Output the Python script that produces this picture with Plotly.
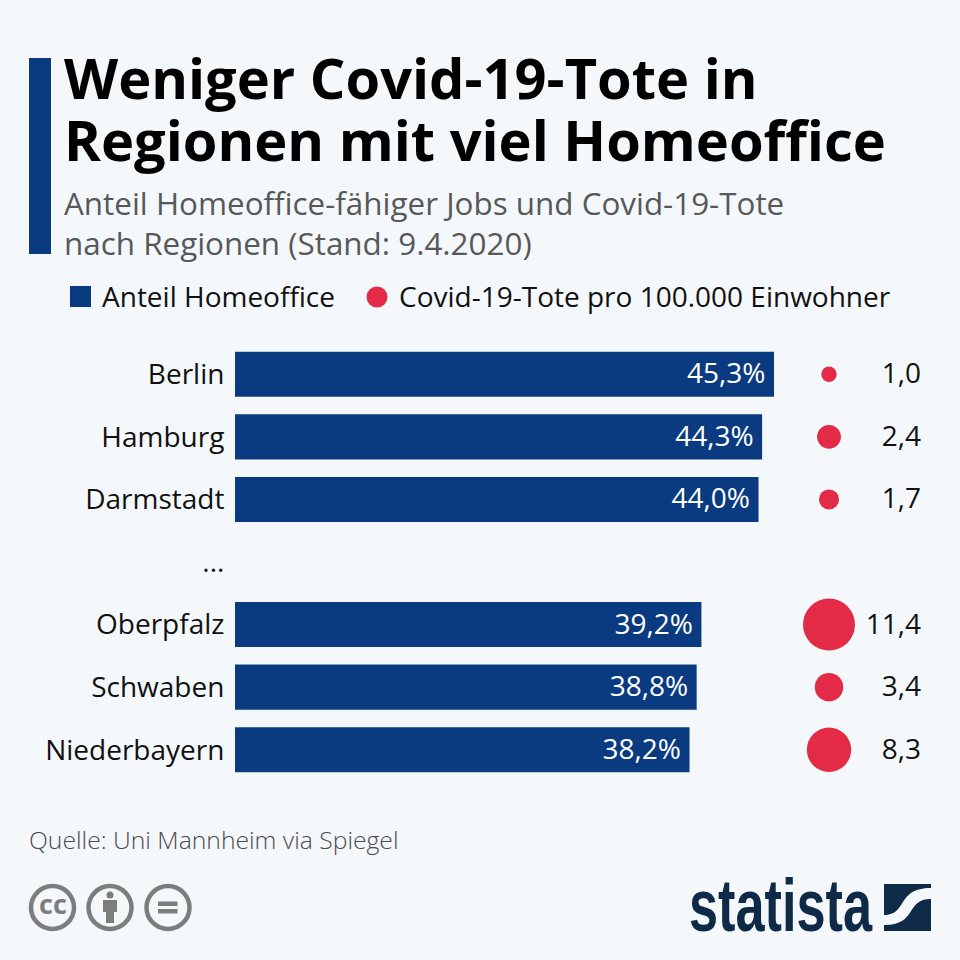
import plotly.graph_objects as go

regions = ["Berlin", "Hamburg", "Darmstadt", "...", "Oberpfalz", "Schwaben", "Niederbayern"]
homeoffice = [45.3, 44.3, 44.0, None, 39.2, 38.8, 38.2]
deaths = [1.0, 2.4, 1.7, None, 11.4, 3.4, 8.3]

TITLE = "Weniger Covid-19-Tote in<br>Regionen mit viel Homeoffice"
SUBTITLE = "Anteil Homeoffice-fähiger Jobs und Covid-19-Tote<br>nach Regionen (Stand: 9.4.2020)"
LEGEND_BAR = "Anteil Homeoffice"
LEGEND_DOT = "Covid-19-Tote pro 100.000 Einwohner"
SOURCE = "Quelle: Uni Mannheim via Spiegel"

BG = "#f4f8fb"; BLUE = "#0a3b80"; RED = "#e32b47"; INK = "#111111"; GREY = "#57585a"
NAVY = "#0f2a47"; ICON = "#7c7e7e"
FONT = "Open Sans"
W = 960.0
X0 = 235.0; PXU = 539.0 / 45.3
xmax = (W - X0) / PXU
DOT_X = (829 - X0) / PXU
LABEL_X = (921 - X0) / PXU
INSET = 8.5 / PXU
ROW_SHIFT = 2.0 / 62.57

fmt = lambda v: f"{v:.1f}".replace(".", ",")
idx = [i for i, v in enumerate(deaths) if v is not None]

fig = go.Figure()
fig.add_bar(
    y=regions, x=homeoffice, orientation="h", width=0.72, marker=dict(color=BLUE, line_width=0),
    name=LEGEND_BAR, showlegend=False,
)
fig.add_scatter(
    y=[regions[i] for i in idx], x=[homeoffice[i] - INSET for i in idx], mode="text", yaxis="y2",
    text=[fmt(homeoffice[i]) + "%" for i in idx], textposition="middle left",
    textfont=dict(family=FONT, size=28, color="white"), showlegend=False, cliponaxis=False,
)
fig.add_scatter(
    y=[regions[i] for i in idx], x=[DOT_X] * len(idx), mode="markers",
    marker=dict(color=RED, opacity=1, size=[deaths[i] for i in idx], sizemode="area", sizeref=2 / 15.4 ** 2, line_width=0),
    name=LEGEND_DOT, showlegend=False,
)
fig.add_scatter(
    y=[regions[i] for i in idx], x=[LABEL_X] * len(idx), mode="text", yaxis="y2",
    text=[fmt(deaths[i]) for i in idx], textposition="middle left",
    textfont=dict(family=FONT, size=28, color=INK), showlegend=False, cliponaxis=False,
)

def px(x): return x / W
def py(y): return 1 - y / W

def note(text, x, y, size, color=INK, bold=False, family=FONT, anchor="left", weight=None):
    f = dict(family=family, size=size, color=color)
    if weight: f["weight"] = weight
    fig.add_annotation(text=f"<b>{text}</b>" if bold else text, x=px(x), y=py(y), xref="paper", yref="paper",
                       xanchor=anchor, yanchor="middle", showarrow=False, align=anchor, font=f)

shapes = []
def rect(x0, y0, x1, y1, color):
    shapes.append(dict(type="rect", xref="paper", yref="paper", x0=px(x0), x1=px(x1), y0=py(y0), y1=py(y1),
                       fillcolor=color, line_width=0))
def ring(cx, cy, r, color, lw):
    shapes.append(dict(type="circle", xref="paper", yref="paper", x0=px(cx - r), x1=px(cx + r), y0=py(cy - r), y1=py(cy + r),
                       fillcolor="rgba(0,0,0,0)", line=dict(color=color, width=lw)))
def disc(cx, cy, r, color):
    shapes.append(dict(type="circle", xref="paper", yref="paper", x0=px(cx - r), x1=px(cx + r), y0=py(cy - r), y1=py(cy + r),
                       fillcolor=color, line_width=0))

# header
rect(29, 58, 51, 254, BLUE)
note(TITLE, 62, 113.5, 56, "#000000", bold=True)
note(SUBTITLE, 62, 223.5, 31.4, GREY)
# legend
rect(70, 286, 91, 307, BLUE)
note(LEGEND_BAR, 100, 295.5, 28)
disc(377, 297, 10.5, RED)
note(LEGEND_DOT, 397, 295.5, 28)
# footer
note(SOURCE, 27, 839.5, 24.7, "#4a4b4d", weight=300)
for cx in (52.5, 110, 168):
    ring(cx, 907.5, 21.5, ICON, 4.5)
note("<b>cc</b>", 52.5, 903, 27, ICON, anchor="center")
disc(110, 895, 3.5, ICON)
rect(103, 900, 117, 912, ICON)
rect(106, 912, 114, 923, ICON)
rect(158, 901.5, 177.5, 906, ICON)
rect(158, 909, 177.5, 913.5, ICON)
# statista logo
note("statista", 687, 905, 75, NAVY, bold=True, family="Liberation Sans")
rect(884, 884, 931, 931, NAVY)
shapes.append(dict(type="path", xref="paper", yref="paper", fillcolor=BG, line_width=0,
    path=f"M {px(884)} {py(915)} C {px(908)} {py(915)} {px(896)} {py(888)} {px(931)} {py(888)} "
         f"L {px(931)} {py(899)} C {px(905)} {py(899)} {px(918)} {py(925)} {px(884)} {py(925)} Z"))

yax = dict(domain=[py(781), py(343)], type="category", categoryorder="array", categoryarray=regions)
fig.update_layout(
    width=960, height=960, margin=dict(l=0, r=0, t=0, b=0), autosize=False,
    paper_bgcolor=BG, plot_bgcolor=BG, shapes=shapes, showlegend=False,
    xaxis=dict(domain=[X0 / W, 1], range=[0, xmax], visible=False, fixedrange=True),
    yaxis=dict(**yax, range=[6.5, -0.5], showgrid=False, zeroline=False, showline=False, ticks="outside", ticklen=4,
               tickcolor="rgba(0,0,0,0)", tickfont=dict(family=FONT, size=28, color=INK)),
    yaxis2=dict(**yax, range=[6.5 - ROW_SHIFT, -0.5 - ROW_SHIFT], overlaying="y", visible=False),
)
POST = """
document.body.style.margin = '0';
document.querySelectorAll('.annotation-text').forEach(function (t) {
  if (t.textContent === 'statista') {
    t.setAttribute('textLength', '183');
    t.setAttribute('lengthAdjust', 'spacingAndGlyphs');
  }
  var lines = t.querySelectorAll('tspan.line');
  if (lines.length === 2) {
    var gap = t.textContent.indexOf('Weniger') === 0 ? 62 : 40;
    lines[1].setAttribute('dy', gap + 'px');
  }
});
"""
fig.write_html("out.html", post_script=POST, config={"displayModeBar": False})
